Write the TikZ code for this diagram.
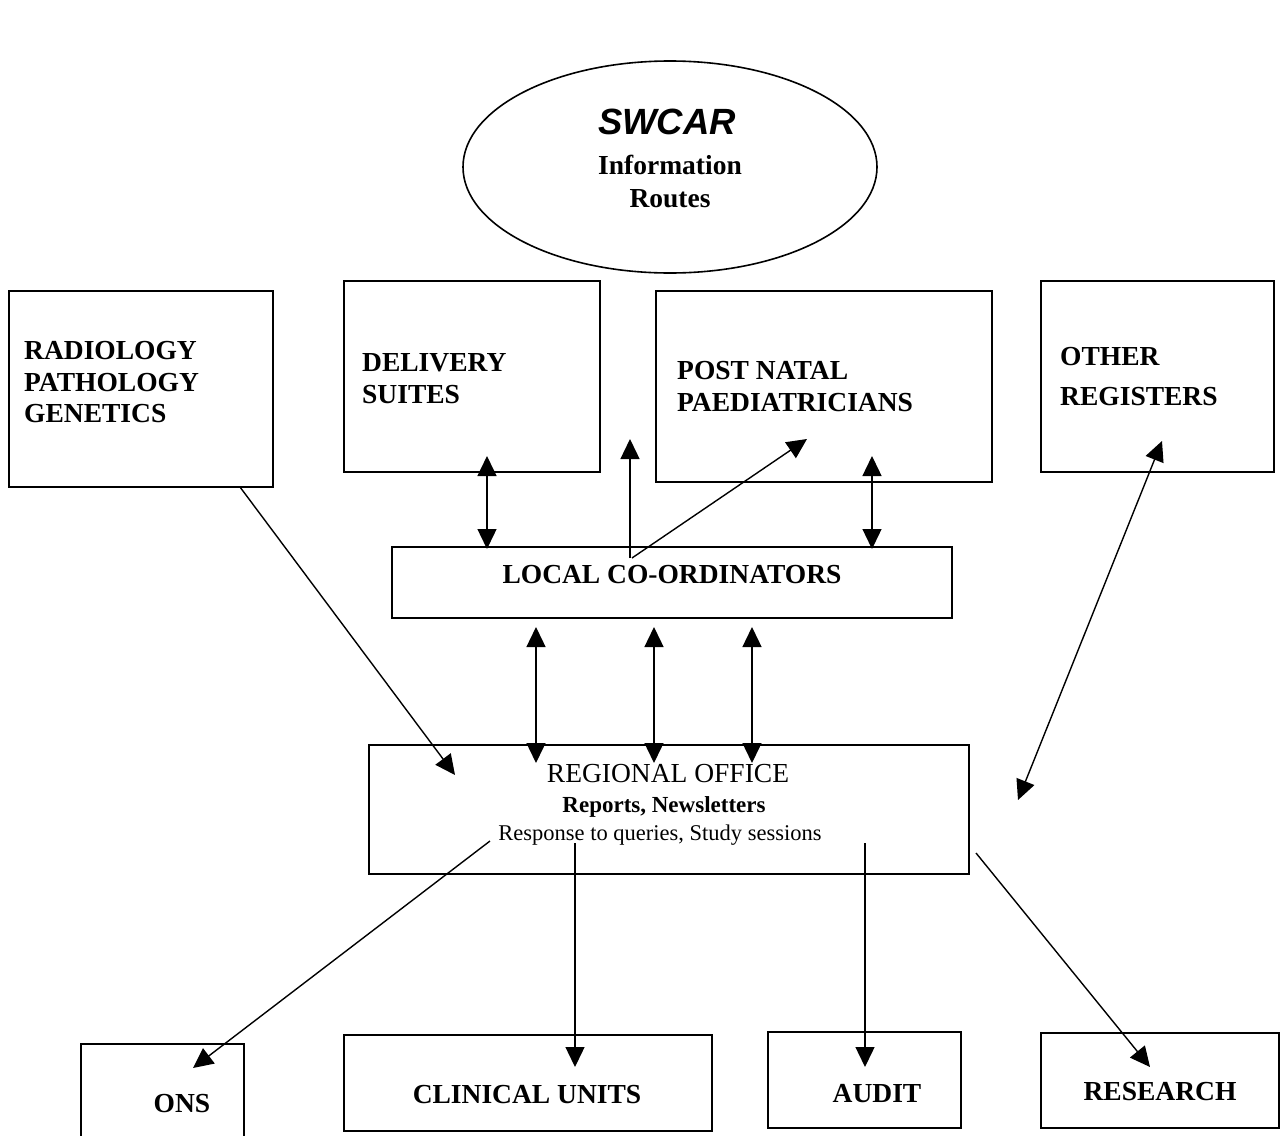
\documentclass[tikz,border=0pt]{standalone}
\usepackage{fontspec}
\setmainfont{Liberation Serif}
\newfontfamily\arialfont{Liberation Sans}
\usetikzlibrary{arrows.meta,shapes.geometric}
\begin{document}
\begin{tikzpicture}[x=1pt,y=-1pt,
  box/.style={draw,line width=1.6pt,rectangle,anchor=north west,inner sep=0pt},
  bt/.style={inner sep=0pt,font=\fontsize{27.5}{31.5}\selectfont\bfseries},
  rt/.style={inner sep=0pt,font=\fontsize{27.5}{31.5}\selectfont},
  tip/.style={-{Triangle[length=20pt,width=19pt]},line width=1.4pt},
  dtip/.style={{Triangle[length=20pt,width=19pt]}-{Triangle[length=20pt,width=19pt]},line width=1.4pt}]
\useasboundingbox (0,0) rectangle (1282,1135);
\fill[white] (0,0) rectangle (1282,1135);

% ellipse
\node[draw,ellipse,line width=1.6pt,minimum width=414pt,minimum height=212pt] (swcar) at (670,167) {};
\node[inner sep=0pt,anchor=base,font=\arialfont\fontsize{36.5}{40}\selectfont\bfseries\itshape] (t1) at (667,134) {SWCAR};
\node[bt,anchor=base] (t2) at (670,174) {Information};
\node[bt,anchor=base] (t3) at (670,207) {Routes};

% boxes
\node[box,minimum width=264pt,minimum height=196pt] (rad) at (8,290) {};
\node[bt,anchor=base west] (r1) at (24,359) {RADIOLOGY};
\node[bt,anchor=base west] (r2) at (24,391) {PATHOLOGY};
\node[bt,anchor=base west] (r3) at (24,422) {GENETICS};

\node[box,minimum width=256pt,minimum height=191pt] (del) at (343,280) {};
\node[bt,anchor=base west] (d1) at (362,371) {DELIVERY};
\node[bt,anchor=base west] (d2) at (362,403) {SUITES};

\node[box,minimum width=336pt,minimum height=191pt] (post) at (655,290) {};
\node[bt,anchor=base west] (p1) at (677,379) {POST NATAL};
\node[bt,anchor=base west] (p2) at (677,411) {PAEDIATRICIANS};

\node[box,minimum width=233pt,minimum height=191pt] (oth) at (1040,280) {};
\node[bt,anchor=base west] (o1) at (1060,365) {OTHER};
\node[bt,anchor=base west] (o2) at (1060,405) {REGISTERS};

\node[box,minimum width=560pt,minimum height=71pt] (loc) at (391,546) {};
\node[bt,anchor=base] (l1) at (672,583) {LOCAL CO-ORDINATORS};

\node[box,minimum width=600pt,minimum height=129pt] (reg) at (368,744) {};
\node[rt,anchor=base] (g1) at (668,782) {REGIONAL OFFICE};
\node[inner sep=0pt,font=\fontsize{23}{28}\selectfont\bfseries,anchor=base] (g2) at (664,812) {Reports, Newsletters};
\node[inner sep=0pt,font=\fontsize{22.5}{28}\selectfont,anchor=base] (g3) at (660,840) {Response to queries, Study sessions};

\node[box,minimum width=163pt,minimum height=120pt] (ons) at (80,1043) {};
\node[bt,anchor=base] (n1) at (182,1112) {ONS};

\node[box,minimum width=368pt,minimum height=96pt] (cli) at (343,1034) {};
\node[bt,anchor=base] (c1) at (527,1103) {CLINICAL UNITS};

\node[box,minimum width=193pt,minimum height=96pt] (aud) at (767,1031) {};
\node[bt,anchor=base] (a1) at (877,1102) {AUDIT};

\node[box,minimum width=238pt,minimum height=95pt] (res) at (1040,1032) {};
\node[bt,anchor=base] (e1) at (1160,1100) {RESEARCH};

% connector end points
\coordinate (dA) at (487,456);  \coordinate (dB) at (487,549);
\coordinate (uA) at (630,558);  \coordinate (uB) at (630,439);
\coordinate (gA) at (632,558);  \coordinate (gB) at (807,439);
\coordinate (pA) at (872,456);  \coordinate (pB) at (872,549);
\coordinate (k1A) at (536,627); \coordinate (k1B) at (536,763);
\coordinate (k2A) at (654,627); \coordinate (k2B) at (654,763);
\coordinate (k3A) at (752,627); \coordinate (k3B) at (752,763);
\coordinate (oA) at (1162,441); \coordinate (oB) at (1018,800);
\coordinate (rA) at (240,487);  \coordinate (rB) at (455,775);
\coordinate (sA) at (490,841);  \coordinate (sB) at (193,1068);
\coordinate (cA) at (575,843);  \coordinate (cB) at (575,1067);
\coordinate (aA) at (865,843);  \coordinate (aB) at (865,1067);
\coordinate (eA) at (976,853);  \coordinate (eB) at (1150,1067);

\draw[dtip] (dA) -- (dB);
\draw[tip] (uA) -- (uB);
\draw[tip] (gA) -- (gB);
\draw[dtip] (pA) -- (pB);
\draw[dtip] (k1A) -- (k1B);
\draw[dtip] (k2A) -- (k2B);
\draw[dtip] (k3A) -- (k3B);
\draw[dtip] (oA) -- (oB);
\draw[tip] (rA) -- (rB);
\draw[tip] (sA) -- (sB);
\draw[tip] (cA) -- (cB);
\draw[tip] (aA) -- (aB);
\draw[tip] (eA) -- (eB);
\end{tikzpicture}
\end{document}
